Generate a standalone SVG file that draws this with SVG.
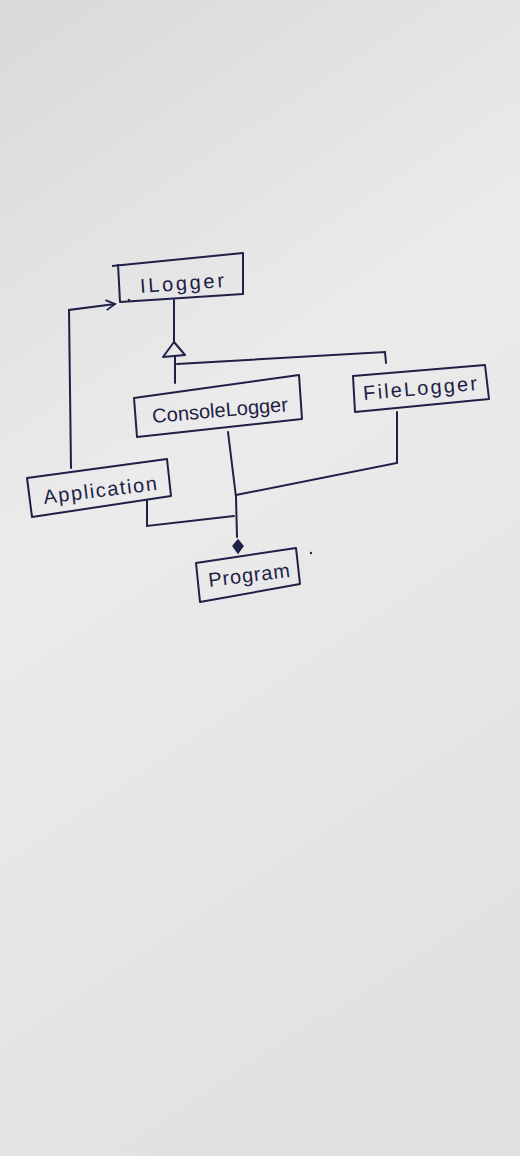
<svg xmlns="http://www.w3.org/2000/svg" width="520" height="1156" viewBox="0 0 520 1156">
<defs>
<linearGradient id="paper" x1="0" y1="0" x2="0.3" y2="1">
<stop offset="0" stop-color="#d9d9db"/>
<stop offset="0.45" stop-color="#ebebec"/>
<stop offset="1" stop-color="#e2e2e4"/>
</linearGradient>
<marker id="open" markerWidth="12" markerHeight="12" refX="10" refY="6" orient="auto" markerUnits="userSpaceOnUse">
<path d="M1,1 L10,6 L1,11" fill="none" stroke="#1e2145" stroke-width="1.8"/>
</marker>
</defs>
<style>
.box{fill:none;stroke:#1e2145;stroke-width:2;stroke-linejoin:round}
.line{fill:none;stroke:#1e2145;stroke-width:2;stroke-linecap:round}
.lbl{font-family:"Liberation Sans",Arial,sans-serif;font-size:20px;fill:#1e2145;text-anchor:middle}
</style>
<rect width="520" height="1156" fill="url(#paper)"/>
<g id="connectors">
<path class="line" d="M71,468 L69,310 L115,304" marker-end="url(#open)"/>
<path class="line" d="M174,300 L174,343"/>
<path class="box" d="M174,342 L163,357 L185,355 Z"/>
<path class="line" d="M175,356 L175,383"/>
<path class="line" d="M177,364 L385,352 L386,363"/>
<path class="line" d="M228,432 L236,497 L237,537"/>
<path class="line" d="M397,412 L397,463 L236,495"/>
<path class="line" d="M147,500 L147,526 L234,516"/>
<path d="M238,540 L243,546 L238,553 L233,546 Z" fill="#1e2145" stroke="#1e2145" stroke-width="1.5"/>
<circle cx="311" cy="553" r="1.2" fill="#1e2145"/>
</g>
<g id="ILogger">
<path class="box" d="M112,266 L243,253 L243,294 L120,302 L118,264"/>
<circle cx="129" cy="300" r="1.2" fill="#1e2145"/>
<text class="lbl" x="182" y="290" textLength="84" lengthAdjust="spacing" transform="rotate(-4 182 284)">ILogger</text>
</g>
<g id="ConsoleLogger">
<path class="box" d="M134,398 L299,375 L302,419 L137,437 Z"/>
<text class="lbl" x="220" y="417" textLength="136" lengthAdjust="spacing" transform="rotate(-5 220 410)">ConsoleLogger</text>
</g>
<g id="FileLogger">
<path class="box" d="M353,376 L485,365 L489,399 L355,412 Z"/>
<text class="lbl" x="420" y="395" textLength="114" lengthAdjust="spacing" transform="rotate(-5 420 388)">FileLogger</text>
</g>
<g id="Application">
<path class="box" d="M27,478 L167,459 L171,496 L32,517 Z"/>
<text class="lbl" x="100" y="497" textLength="114" lengthAdjust="spacing" transform="rotate(-7 100 490)">Application</text>
</g>
<g id="Program">
<path class="box" d="M196,563 L296,548 L300,584 L200,602 Z"/>
<text class="lbl" x="249" y="582" textLength="82" lengthAdjust="spacing" transform="rotate(-7 249 575)">Program</text>
</g>
</svg>
